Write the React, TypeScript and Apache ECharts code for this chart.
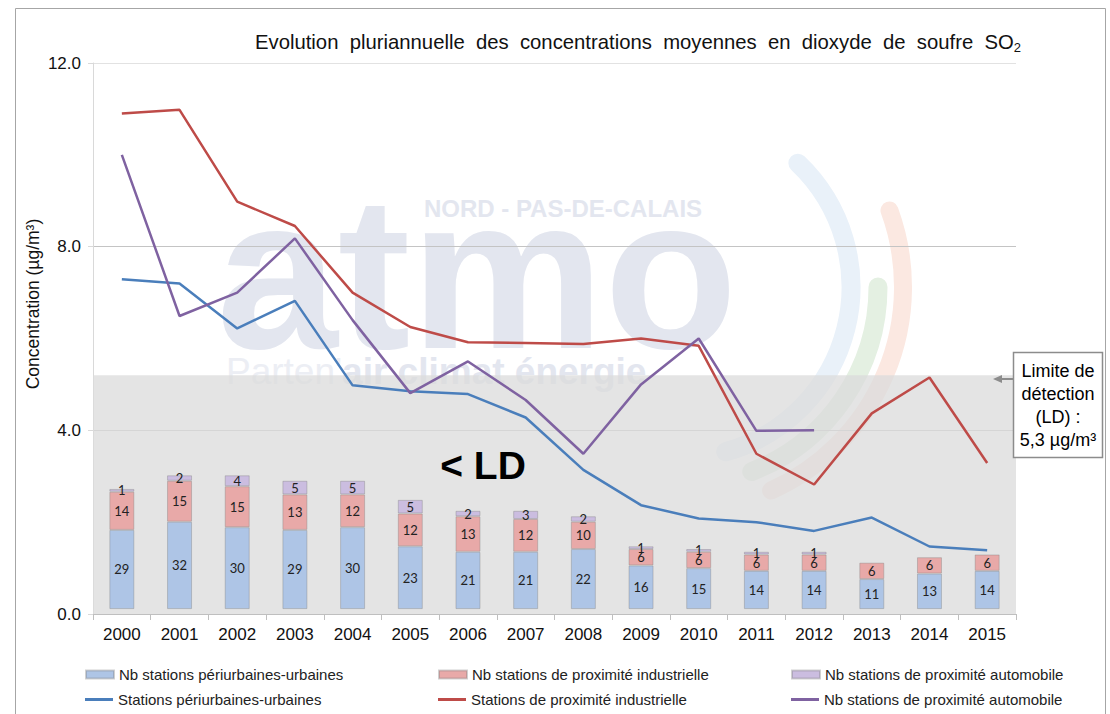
import React, { useEffect, useRef } from "react";
import * as echarts from "echarts";

const years = ["2000","2001","2002","2003","2004","2005","2006","2007","2008","2009","2010","2011","2012","2013","2014","2015"];
const nbPeriurbaines = [29,32,30,29,30,23,21,21,22,16,15,14,14,11,13,14];
const nbIndustrielle = [14,15,15,13,12,12,13,12,10,6,6,6,6,6,6,6];
const nbAutomobile = [1,2,4,5,5,5,2,3,2,1,1,1,1,null,null,null];
const concPeriurbaines = [7.29,7.2,6.22,6.82,4.98,4.85,4.79,4.28,3.14,2.37,2.08,2.0,1.81,2.1,1.47,1.39];
const concIndustrielle = [10.9,10.98,8.98,8.45,7.0,6.25,5.92,5.9,5.88,6.0,5.84,3.49,2.82,4.37,5.15,3.29];
const concAutomobile = [10.0,6.49,7.0,8.18,6.4,4.81,5.5,4.66,3.49,5.0,6.0,3.99,4.0,null,null,null];
const ldLimit = 5.2;

const titleWords = ["Evolution", "pluriannuelle", "des", "concentrations", "moyennes", "en", "dioxyde", "de", "soufre", "SO"];

const names = {
  b1: "Nb stations périurbaines-urbaines",
  b2: "Nb stations de proximité industrielle",
  b3: "Nb stations de proximité automobile",
  l1: "Stations périurbaines-urbaines",
  l2: "Stations de proximité industrielle",
  l3: "Nb stations de proximité automobile ",
};

const C_BLUE = "#4a7ebb";
const C_RED = "#be4b48";
const C_PURPLE = "#7f62a1";
const B_BLUE = "#aec5e6";
const B_RED = "#e8a9a8";
const B_PURPLE = "#cbbde0";

export default function App() {
  const ref = useRef<HTMLDivElement>(null);
  useEffect(() => {
    if (!ref.current) return;
    const chart = echarts.init(ref.current, null, { renderer: "svg" });
    const barLabel = {
      show: true,
      position: "inside",
      fontFamily: "Lato",
      fontSize: 13,
      color: "#222",
      formatter: (p: any) => (p.value ? String(p.value) : ""),
    };
    const barStyle = (c: string) => ({
      color: c,
      borderColor: "rgba(120,120,120,0.35)",
      borderWidth: 1,
    });
    const legendBase = {
      itemWidth: 28,
      padding: 0,
      textStyle: { fontFamily: "Liberation Sans", fontSize: 15, color: "#222" },
      selectedMode: false,
      itemGap: 4,
    };
    const legendPos = [
      { n: names.b1, left: 85, top: 667, bar: true },
      { n: names.b2, left: 438, top: 667, bar: true },
      { n: names.b3, left: 791, top: 667, bar: true },
      { n: names.l1, left: 85, top: 692, bar: false },
      { n: names.l2, left: 438, top: 692, bar: false },
      { n: names.l3, left: 791, top: 692, bar: false },
    ];
    const wm = "#e3e6ef";
    chart.setOption({
      animation: false,
      backgroundColor: "#fff",
      title: {
        left: 250,
        top: 25,
        text: "{a|" + titleWords.join("  ") + "}{b|2}",
        textStyle: {
          fontWeight: "normal",
          rich: {
            a: { fontFamily: "Liberation Sans", fontWeight: "normal", fontSize: 20.3, color: "#111", lineHeight: 24 },
            b: { fontFamily: "Liberation Sans", fontWeight: "normal", fontSize: 13, color: "#111", verticalAlign: "bottom", lineHeight: 15 },
          },
        },
      },
      legend: legendPos.map((l) => ({
        ...legendBase,
        data: [l.n],
        left: l.left,
        top: l.top,
        icon: "rect",
        itemHeight: l.bar ? 8 : 3,
      })),
      grid: { left: 93, right: 94, top: 63, bottom: 100, containLabel: false },
      xAxis: {
        type: "category",
        data: years,
        boundaryGap: true,
        axisLine: { lineStyle: { color: "#bfbfbf" } },
        axisTick: { show: true, length: 6, lineStyle: { color: "#bfbfbf" } },
        axisLabel: { fontFamily: "Liberation Sans", fontSize: 17, color: "#111", margin: 12 },
      },
      yAxis: [
        {
          type: "value",
          min: 0,
          max: 12,
          interval: 4,
          axisLine: { show: true, lineStyle: { color: "#d9d9d9" } },
          axisTick: { show: true, length: 5, lineStyle: { color: "#d9d9d9" } },
          axisLabel: {
            fontFamily: "Liberation Sans",
            fontSize: 17,
            color: "#111",
            margin: 12,
            formatter: (v: number) => v.toFixed(1),
          },
          splitLine: { lineStyle: { color: ["#c4c4c4", "#c4c4c4", "#c4c4c4", "#e2e2e2"] } },
        },
        { type: "value", min: -1.8, max: 200, show: false, splitLine: { show: false } },
      ],
      graphic: [
        { type: "rect", shape: { x: 15.5, y: 8.5, width: 1090, height: 720 }, style: { fill: "none", stroke: "#a6a6a6", lineWidth: 1 }, z: 0, silent: true },
        { type: "arc", shape: { cx: 680, cy: 287, r: 171, startAngle: -0.81, endAngle: 1.3 }, style: { fill: "none", stroke: "#e9f1f9", lineWidth: 19, lineCap: "round" }, z: 0, silent: true },
        { type: "arc", shape: { cx: 680, cy: 287, r: 198, startAngle: 0.0, endAngle: 1.2 }, style: { fill: "none", stroke: "#e4f0e2", lineWidth: 19, lineCap: "round" }, z: 0, silent: true },
        { type: "arc", shape: { cx: 680, cy: 287, r: 223, startAngle: -0.35, endAngle: 1.15 }, style: { fill: "none", stroke: "#fbe8e1", lineWidth: 18, lineCap: "round" }, z: 0, silent: true },
        { type: "text", x: 477, y: 272, style: { text: "atmo", fontFamily: "Liberation Sans", fontWeight: "bold", fontSize: 218, fill: wm, align: "center", verticalAlign: "middle" }, z: 0, silent: true },
        { type: "text", x: 563, y: 208, style: { text: "NORD - PAS-DE-CALAIS", fontFamily: "Liberation Sans", fontWeight: "bold", fontSize: 24, fill: wm, align: "center", verticalAlign: "middle" }, z: 0, silent: true },
        {
          type: "text", x: 226, y: 371,
          style: {
            text: "{l|Parten'}{b|air climat énergie}",
            verticalAlign: "middle",
            rich: {
              l: { fontFamily: "Liberation Sans", fontSize: 37, fill: "#eceef4", color: "#eceef4" },
              b: { fontFamily: "Liberation Sans", fontWeight: "bold", fontSize: 37, fill: wm, color: wm },
            },
          },
          z: 0, silent: true,
        },
        {
          type: "text", x: 33, y: 304, rotation: Math.PI / 2,
          style: { text: "Concentration (µg/m³)", fontFamily: "Liberation Sans", fontSize: 17.5, fill: "#111", align: "center", verticalAlign: "middle" },
          z: 10,
        },
        { type: "text", x: 483, y: 465, style: { text: "< LD", fontFamily: "Liberation Sans", fontWeight: "bold", fontSize: 39, fill: "#000", align: "center", verticalAlign: "middle" }, z: 10 },
        { type: "rect", shape: { x: 1013.5, y: 352.5, width: 89, height: 105 }, style: { fill: "#fff", stroke: "#8c8c8c", lineWidth: 1.5 }, z: 10 },
        { type: "line", shape: { x1: 1000, y1: 379, x2: 1013, y2: 379 }, style: { stroke: "#8c8c8c", lineWidth: 2 }, z: 10 },
        { type: "polygon", shape: { points: [[993, 379], [1002, 375], [1002, 383]] }, style: { fill: "#8c8c8c" }, z: 10 },
        {
          type: "text", x: 1058, y: 405,
          style: {
            text: "Limite de\ndétection\n(LD) :\n5,3 µg/m³",
            fontFamily: "Liberation Sans", fontSize: 18, lineHeight: 23, fill: "#000",
            align: "center", verticalAlign: "middle",
          },
          z: 11,
        },
      ],
      series: [
        {
          name: "__band",
          type: "line",
          data: years.map(() => null),
          z: 1,
          silent: true,
          markArea: {
            silent: true,
            itemStyle: { color: "rgba(219,219,219,0.75)" },
            data: [[{ yAxis: 0 }, { yAxis: ldLimit }]],
          },
        },
        { name: names.b1, type: "bar", stack: "nb", yAxisIndex: 1, barWidth: 25, data: nbPeriurbaines, itemStyle: barStyle(B_BLUE), label: barLabel, z: 3 },
        { name: names.b2, type: "bar", stack: "nb", yAxisIndex: 1, barWidth: 25, data: nbIndustrielle, itemStyle: barStyle(B_RED), label: barLabel, z: 3 },
        { name: names.b3, type: "bar", stack: "nb", yAxisIndex: 1, barWidth: 25, data: nbAutomobile, itemStyle: barStyle(B_PURPLE), label: barLabel, z: 3 },
        { name: names.l1, type: "line", data: concPeriurbaines, symbol: "none", lineStyle: { color: C_BLUE, width: 2.5 }, itemStyle: { color: C_BLUE }, z: 5 },
        { name: names.l2, type: "line", data: concIndustrielle, symbol: "none", lineStyle: { color: C_RED, width: 2.5 }, itemStyle: { color: C_RED }, z: 5 },
        { name: names.l3, type: "line", data: concAutomobile, symbol: "none", lineStyle: { color: C_PURPLE, width: 2.5 }, itemStyle: { color: C_PURPLE }, z: 5 },
      ],
    });
    return () => chart.dispose();
  }, []);
  return <div ref={ref} style={{ width: 1110, height: 714, position: "absolute", left: 0, top: 0 }} />;
}
